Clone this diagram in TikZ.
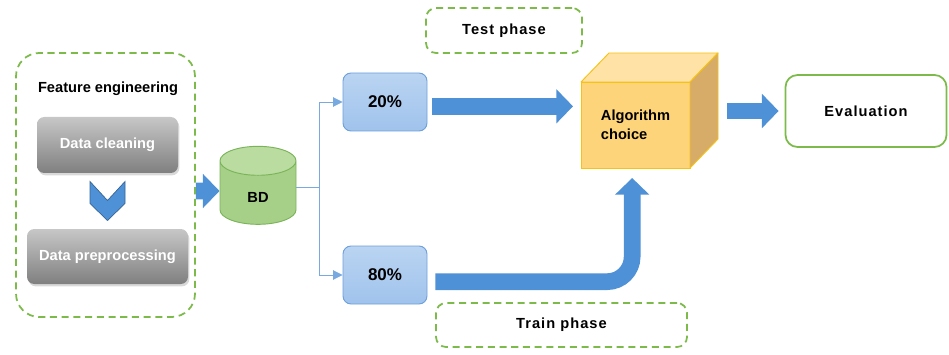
\documentclass[tikz,border=0pt]{standalone}
\usepackage{fontspec}
\setmainfont{Liberation Sans}
\newfontfamily\spacedfont[LetterSpace=7]{Liberation Sans}
\usepackage{tikz}
\usetikzlibrary{calc}
\usetikzlibrary{arrows.meta}
\usetikzlibrary{shapes.geometric}
\usetikzlibrary{shadows}
\usepackage{xcolor}
\definecolor{dashgreen}{RGB}{124,187,74}
\definecolor{arrowblue}{RGB}{78,145,214}
\definecolor{linkblue}{RGB}{120,170,225}
\definecolor{pcttop}{RGB}{186,212,242}
\definecolor{pctbot}{RGB}{160,195,236}
\definecolor{pctedge}{RGB}{110,160,218}
\definecolor{bdfill}{RGB}{166,207,136}
\definecolor{bdtop}{RGB}{186,220,160}
\definecolor{bdedge}{RGB}{122,180,88}
\definecolor{cubefront}{RGB}{254,212,122}
\definecolor{cubetop}{RGB}{254,226,166}
\definecolor{cubeside}{RGB}{214,172,104}
\definecolor{cubeedge}{RGB}{246,194,20}
\newcommand{\lbl}{\fontsize{12.5}{16}\selectfont\bfseries}
\newcommand{\chev}[1]{%
  \draw[fill=arrowblue, draw=arrowblue!70!black, line width=0.6pt]
    ([shift={(-0.525,0.585)}]#1) -- ++(0.525,-0.57) -- ++(0.525,0.57)
       -- ++(0,-0.66) -- ++(-0.525,-0.51) -- ++(-0.525,0.51) -- cycle;}
\tikzset{
  groupbox/.style={draw=dashgreen, line width=1.5pt, dash pattern=on 6pt off 4pt,
    rounded corners=0.7cm},
  phasebox/.style={draw=dashgreen, line width=1.5pt, dash pattern=on 6pt off 4pt,
    rounded corners=0.3cm, font=\lbl\spacedfont},
  graybox/.style={rounded corners=0.22cm, top color=black!22, bottom color=black!50,
    draw=none, text=white, font=\lbl,
    drop shadow={shadow xshift=0.04cm, shadow yshift=-0.07cm, opacity=0.3}},
  pctbox/.style={rounded corners=0.24cm, top color=pcttop, bottom color=pctbot,
    draw=pctedge, line width=0.8pt, minimum width=2.52cm, minimum height=1.74cm,
    font=\fontsize{14.5}{17}\selectfont\bfseries},
  bigarrow/.style={arrowblue, line width=0.5cm, -{Triangle[width=1cm,length=0.5cm]}},
  thinlink/.style={linkblue, line width=0.8pt, -{Triangle[width=8pt,length=8pt]}},
}

\begin{document}
\begin{tikzpicture}
\useasboundingbox (0,0) rectangle (28.47,10.62);

% ---- Feature engineering group ----
\node[groupbox, minimum width=5.37cm, minimum height=7.92cm] (fe) at (3.165,5.07) {};
\node[font=\lbl] (fetitle) at (3.24,7.95) {Feature engineering};
\node[graybox, minimum width=4.23cm, minimum height=1.68cm] (clean) at (3.225,6.27) {Data cleaning};
\node[graybox, minimum width=4.83cm, minimum height=1.65cm] (prep) at (3.225,2.925) {Data preprocessing};
\coordinate (mid) at ($(clean.south)!0.5!(prep.north)$);
\chev{mid}

% ---- Data base and split ----
\node[cylinder, shape border rotate=90, aspect=1, minimum width=2.28cm,
  minimum height=2.34cm, draw=bdedge, line width=0.8pt, cylinder uses custom fill,
  cylinder body fill=bdfill, cylinder end fill=bdtop, font=\lbl] (bd) at (7.74,4.74)
  {\raisebox{-0.19cm}[0pt][0pt]{BD}};
\draw[bigarrow] ([yshift=-0.18cm]fe.east) -- ([yshift=0.15cm]bd.west);

\node[pctbox] (p20) at (11.55,7.56) {20\%};
\node[pctbox] (p80) at (11.55,2.37) {80\%};
\draw[thinlink] ([yshift=0.27cm]bd.east) -- ++(0.69,0) coordinate (split) |- (p20.west);
\draw[thinlink] (split) |- (p80.west);

% ---- Phases ----
\node[phasebox, minimum width=4.68cm, minimum height=1.35cm] (test) at (15.12,9.705) {Test phase};
\node[phasebox, minimum width=7.53cm, minimum height=1.32cm] (train) at (16.845,0.87) {Train phase};

% ---- Algorithm cube ----
\node[fill=cubefront, draw=cubeedge, line width=0.8pt, outer sep=0pt,
  minimum width=3.27cm, minimum height=2.58cm, align=left, font=\lbl] (cube)
  at (19.065,6.87) {Algorithm\\choice};
\draw[fill=cubetop, draw=cubeedge, line width=0.8pt, line join=round]
  (cube.north west) -- ++(0.84,0.87) -- ++(3.27,0) -- (cube.north east) -- cycle;
\draw[fill=cubeside, draw=cubeedge, line width=0.8pt, line join=round]
  (cube.north east) -- ++(0.84,0.87) -- ++(0,-2.58) -- (cube.south east) -- cycle;
\coordinate (cubeback) at ([xshift=0.84cm]cube.east);

\coordinate (testfrom) at ([yshift=-0.13cm]p20.east);
\draw[bigarrow, shorten <=0.15cm, shorten >=0.24cm] (testfrom) -- (testfrom -| cube.west);
\coordinate (trainfrom) at ([yshift=-0.2cm]p80.east);
\coordinate (trainto) at ([xshift=-0.1cm]cube.south);
\draw[bigarrow, rounded corners=0.75cm, shorten <=0.24cm, shorten >=0.3cm]
  (trainfrom) -| (trainto);

% ---- Evaluation ----
\node[draw=dashgreen, line width=1.5pt, rounded corners=0.36cm, minimum width=4.83cm,
  minimum height=2.16cm, font=\lbl\spacedfont] (eval) at (25.98,7.29) {Evaluation};
\draw[bigarrow, shorten <=0.27cm, shorten >=0.18cm] (cubeback |- eval.west) -- (eval.west);

\end{tikzpicture}
\end{document}
